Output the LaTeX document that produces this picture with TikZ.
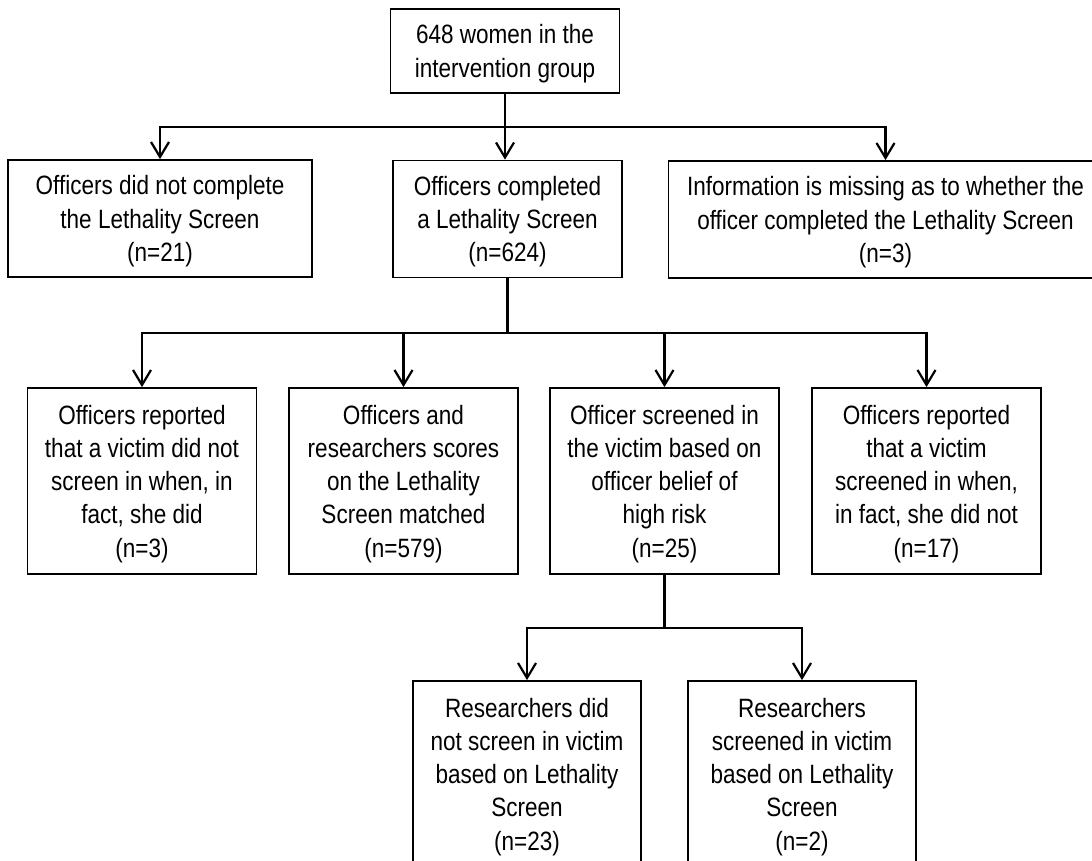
\documentclass[tikz,border=0pt]{standalone}
\usepackage{fontspec}
\setmainfont{Liberation Sans}[FakeStretch=0.85]
\usetikzlibrary{arrows.meta,positioning}

\begin{document}
\begin{tikzpicture}[
        %We work in pixels and define some styles
        x=1pt, y=-1pt,
        box/.style={draw, line width=1.8pt, align=center, inner sep=0pt,
            text depth=0pt, font=\fontsize{26.5}{33.3}\selectfont},
        top box/.style={box, minimum width=229, minimum height=84},
        wide box/.style={box, minimum height=117},
        tall box/.style={box, minimum width=229, minimum height=186},
        link/.style={line width=2.2pt},
        arrow/.style={link, -{Straight Barb[length=15pt, width=18pt]}}
    ]
    % Page size
    \useasboundingbox (0,0) rectangle (1092,861);
    \fill[white] (0,0) rectangle (1092,861);

    % Top
    \node[top box] (women) at (505,51) {648 women in the\\intervention group};

    % First split
    \node[wide box, minimum width=304] (notdone) at (160,218.5)
        {Officers did not complete\\the Lethality Screen\\(n=21)};
    \node[wide box, minimum width=229] (done) at (507.5,219)
        {Officers completed\\a Lethality Screen\\(n=624)};
    \node[wide box, minimum width=434] (missing) at (885.5,219.5)
        {Information is missing as to whether the\\officer completed the Lethality Screen\\(n=3)};

    % Second split
    \node[tall box] (notin) at (142,481)
        {Officers reported\\that a victim did not\\screen in when, in\\fact, she did\\(n=3)};
    \node[tall box] (matched) at (403.5,481)
        {Officers and\\researchers scores\\on the Lethality\\Screen matched\\(n=579)};
    \node[tall box] (belief) at (664.5,481)
        {Officer screened in\\the victim based on\\officer belief of\\high risk\\(n=25)};
    \node[tall box] (wrongin) at (926.5,481)
        {Officers reported\\that a victim\\screened in when,\\in fact, she did not\\(n=17)};

    % Third split
    \node[tall box, minimum width=228] (resnot) at (527,774)
        {Researchers did\\not screen in victim\\based on Lethality\\Screen\\(n=23)};
    \node[tall box, minimum width=228] (resin) at (802,774)
        {Researchers\\screened in victim\\based on Lethality\\Screen\\(n=2)};

    % Branch points
    \coordinate (splitA) at (505,127);
    \coordinate (splitB) at (507.5,333);
    \coordinate (splitC) at (664.5,628);

    % Connectors
    \draw[link] (women.south) -- (splitA);
    \draw[arrow] (splitA) -| (notdone.north);
    \draw[arrow] (splitA) -- (splitA |- done.north);
    \draw[arrow] (splitA) -| (missing.north);

    \draw[link] (done.south) -- (splitB);
    \draw[arrow] (splitB) -| (notin.north);
    \draw[arrow] (splitB) -| (matched.north);
    \draw[arrow] (splitB) -| (belief.north);
    \draw[arrow] (splitB) -| (wrongin.north);

    \draw[link] (belief.south) -- (splitC);
    \draw[arrow] (splitC) -| (resnot.north);
    \draw[arrow] (splitC) -| (resin.north);
\end{tikzpicture}
\end{document}
